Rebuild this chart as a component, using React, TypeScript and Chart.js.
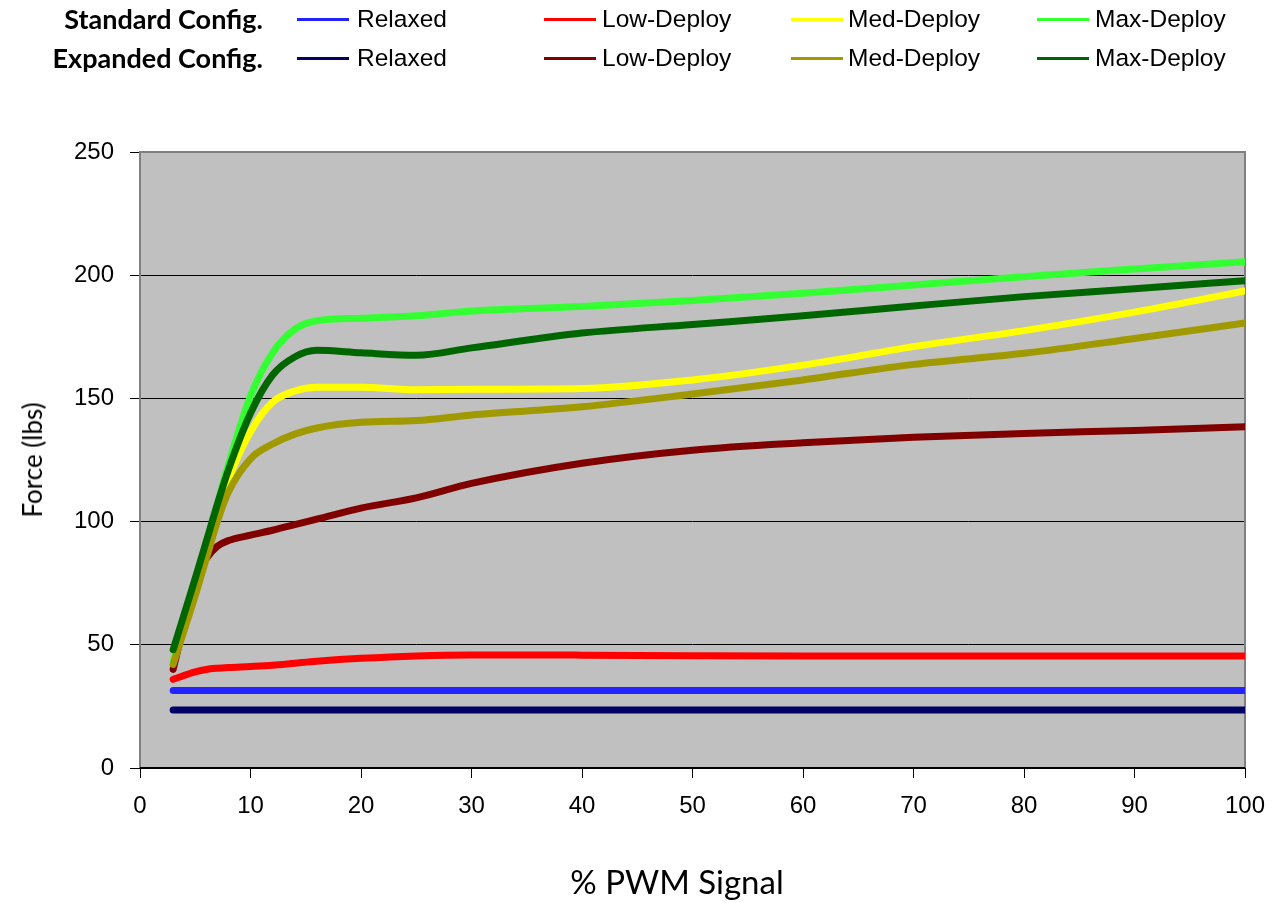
import React, { useEffect, useRef } from "react";
import { Chart, registerables } from "chart.js";

Chart.register(...registerables);

// % PWM signal sample points
const pwm = [3, 5, 6, 7, 8, 10, 12, 14, 16, 20, 25, 30, 40, 50, 60, 70, 80, 90, 100];

// Standard configuration, force in lbs
const stdRelaxed = [31.5, 31.5, 31.5, 31.5, 31.5, 31.5, 31.5, 31.5, 31.5, 31.5, 31.5, 31.5, 31.5, 31.5, 31.5, 31.5, 31.5, 31.5, 31.5];
const stdLow = [36, 39, 40, 40.5, 40.8, 41.2, 41.7, 42.5, 43.3, 44.5, 45.5, 45.9, 45.8, 45.6, 45.5, 45.5, 45.5, 45.5, 45.5];
const stdMed = [43, 72, 88, 103, 117, 136.5, 148.5, 153, 154.5, 154.5, 153.5, 153.7, 154, 157.5, 163.5, 171, 177.5, 185, 193.6];
const stdMax = [43, 73, 89, 107, 123, 151, 168.5, 178, 181.5, 182.5, 183.5, 185.5, 187.3, 189.7, 192.7, 196, 199.4, 202.5, 205.5];

// Expanded configuration, force in lbs
const expRelaxed = [23.5, 23.5, 23.5, 23.5, 23.5, 23.5, 23.5, 23.5, 23.5, 23.5, 23.5, 23.5, 23.5, 23.5, 23.5, 23.5, 23.5, 23.5, 23.5];
const expLow = [40, 76, 85, 90, 92.3, 94.5, 96.5, 98.8, 101, 105.5, 109.6, 115.5, 123.7, 129, 132, 134.2, 135.8, 137, 138.5];
const expMed = [42, 70, 85, 100, 112, 125.5, 131.5, 135.5, 138, 140.3, 141, 143.3, 146.6, 151.8, 157.5, 163.8, 168.3, 174.3, 180.6];
const expMax = [48, 77, 92, 107, 121, 144, 159.5, 166.8, 169.5, 168.5, 167.5, 170.5, 176.5, 180, 183.5, 187.5, 191.3, 194.5, 197.8];

const yTicks = [0, 50, 100, 150, 200, 250];
const xTicks = [0, 10, 20, 30, 40, 50, 60, 70, 80, 90, 100];

const levelNames = ["Relaxed", "Low-Deploy", "Med-Deploy", "Max-Deploy"];
const groupNames = ["Standard Config.", "Expanded Config."];
const stdColors = ["#2323ff", "#ff0000", "#ffff00", "#33ff33"];
const expColors = ["#000066", "#800000", "#a09a00", "#006600"];

const seriesList = [
  { label: "Standard Relaxed", data: stdRelaxed, color: stdColors[0] },
  { label: "Standard Low-Deploy", data: stdLow, color: stdColors[1] },
  { label: "Standard Med-Deploy", data: stdMed, color: stdColors[2] },
  { label: "Standard Max-Deploy", data: stdMax, color: stdColors[3] },
  { label: "Expanded Relaxed", data: expRelaxed, color: expColors[0] },
  { label: "Expanded Low-Deploy", data: expLow, color: expColors[1] },
  { label: "Expanded Med-Deploy", data: expMed, color: expColors[2] },
  { label: "Expanded Max-Deploy", data: expMax, color: expColors[3] },
];

const W = 1277;
const H = 903;

const plotFrame = {
  id: "plotFrame",
  beforeDraw(chart: any) {
    const { ctx, chartArea } = chart;
    const { left, top, right, bottom } = chartArea;
    ctx.save();
    ctx.fillStyle = "#c0c0c0";
    ctx.fillRect(left, top, right - left, bottom - top);
    ctx.restore();
  },
  beforeDatasetsDraw(chart: any) {
    const { ctx, chartArea } = chart;
    const { left, top, right, bottom } = chartArea;
    ctx.save();
    ctx.strokeStyle = "#808080";
    ctx.lineWidth = 2;
    ctx.beginPath();
    ctx.moveTo(left, bottom);
    ctx.lineTo(left, top);
    ctx.lineTo(right, top);
    ctx.lineTo(right, bottom);
    ctx.stroke();
    ctx.strokeStyle = "#000000";
    ctx.beginPath();
    ctx.moveTo(left, bottom);
    ctx.lineTo(right, bottom);
    ctx.stroke();
    ctx.restore();
  },
};

const legendX = [
  { swatch: 297, text: 357 },
  { swatch: 544, text: 602 },
  { swatch: 791, text: 848 },
  { swatch: 1037, text: 1095 },
];
const rowY = [19, 58];

function Legend() {
  const rows = [stdColors, expColors];
  return (
    <>
      {rows.map((colors, r) => (
        <React.Fragment key={r}>
          <div
            style={{
              position: "absolute",
              right: W - 263,
              top: rowY[r] - 16,
              height: 32,
              lineHeight: "32px",
              fontFamily: "Lato, 'Open Sans', sans-serif",
              fontWeight: 700,
              fontSize: 27,
              whiteSpace: "nowrap",
              color: "#000",
            }}
          >
            {groupNames[r]}
          </div>
          {colors.map((c, i) => (
            <React.Fragment key={i}>
              <div
                style={{
                  position: "absolute",
                  left: legendX[i].swatch,
                  top: rowY[r] - 1.5,
                  width: 52,
                  height: 3,
                  background: c,
                }}
              />
              <div
                style={{
                  position: "absolute",
                  left: legendX[i].text,
                  top: rowY[r] - 16,
                  height: 32,
                  lineHeight: "32px",
                  fontFamily: "'Liberation Sans', Arial, sans-serif",
                  fontSize: 24.5,
                  whiteSpace: "nowrap",
                  color: "#000",
                }}
              >
                {levelNames[i]}
              </div>
            </React.Fragment>
          ))}
        </React.Fragment>
      ))}
    </>
  );
}

export default function App() {
  const canvasRef = useRef<HTMLCanvasElement | null>(null);

  useEffect(() => {
    document.body.style.margin = "0";
    const canvas = canvasRef.current;
    if (!canvas) return;
    const tickFont = { family: "'Liberation Sans', Arial, sans-serif", size: 24 };
    const chart = new Chart(canvas, {
      type: "line",
      data: {
        datasets: seriesList.map((s, i) => ({
          label: s.label,
          data: pwm.map((x, k) => ({ x, y: s.data[k] })),
          borderColor: s.color,
          backgroundColor: s.color,
          borderWidth: 7,
          borderCapStyle: "round" as const,
          borderJoinStyle: "round" as const,
          pointRadius: 0,
          pointHoverRadius: 0,
          cubicInterpolationMode: "monotone" as const,
          fill: false,
          order: seriesList.length - i,
        })),
      },
      options: {
        responsive: false,
        animation: false,
        events: [],
        layout: { padding: { top: 152, right: 32, left: 0, bottom: 0 } },
        plugins: {
          legend: { display: false },
          tooltip: { enabled: false },
        },
        scales: {
          x: {
            type: "linear",
            min: 0,
            max: 100,
            afterFit(scale: any) {
              scale.height = H - 768;
              scale.paddingLeft = 0;
              scale.paddingRight = 0;
            },
            afterBuildTicks(scale: any) {
              scale.ticks = xTicks.map((v) => ({ value: v }));
            },
            ticks: { color: "#000", font: tickFont, padding: 14, maxRotation: 0, autoSkip: false },
            grid: { drawOnChartArea: false, drawTicks: true, tickLength: 10, color: "#000", lineWidth: 1 },
            border: { display: false },
          },
          y: {
            type: "linear",
            min: 0,
            max: 250,
            afterFit(scale: any) {
              scale.width = 140;
              scale.paddingTop = 0;
              scale.paddingBottom = 0;
            },
            afterBuildTicks(scale: any) {
              scale.ticks = yTicks.map((v) => ({ value: v }));
            },
            ticks: { color: "#000", font: tickFont, padding: 16, autoSkip: false },
            grid: { color: "#000", lineWidth: 1, drawTicks: true, tickLength: 10, tickColor: "#000" },
            border: { display: false },
          },
        },
      },
      plugins: [plotFrame],
    });
    return () => chart.destroy();
  }, []);

  return (
    <div style={{ position: "relative", width: W, height: H, background: "#fff", overflow: "hidden" }}>
      <canvas ref={canvasRef} width={W} height={H} style={{ position: "absolute", left: 0, top: 0 }} />
      <Legend />
      <div
        style={{
          position: "absolute",
          left: 32,
          top: 460,
          transform: "translate(-50%, -50%) rotate(-90deg)",
          fontFamily: "Lato, 'Open Sans', sans-serif",
          fontSize: 26,
          whiteSpace: "nowrap",
          color: "#000",
          lineHeight: "32px",
        }}
      >
        Force (lbs)
      </div>
      <div
        style={{
          position: "absolute",
          left: 677,
          top: 881,
          transform: "translate(-50%, -50%)",
          fontFamily: "Lato, 'Open Sans', sans-serif",
          fontSize: 33,
          whiteSpace: "nowrap",
          color: "#000",
          lineHeight: "40px",
        }}
      >
        % PWM Signal
      </div>
    </div>
  );
}
